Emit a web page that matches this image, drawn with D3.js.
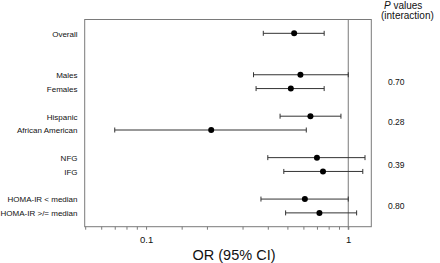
<!DOCTYPE html>
<html>
<head>
<meta charset="utf-8">
<script src="https://cdn.jsdelivr.net/npm/d3@7.9.0/dist/d3.min.js"></script>
<style>
  body { margin: 0; background: #fff; }
  svg { display: block; font-family: Arial, "Liberation Sans", sans-serif; }
</style>
</head>
<body>
<svg id="chart" width="440" height="263"></svg>
<script>
// subgroup rows (slot = row position, gaps between groups)
const labels = ["Overall", "Males", "Females", "Hispanic", "African American",
                "NFG", "IFG", "HOMA-IR < median", "HOMA-IR >/= median"];
const slots = [0, 3, 4, 6, 7, 9, 10, 12, 13];
const oddsRatio = [0.54, 0.58, 0.52, 0.65, 0.21, 0.70, 0.75, 0.61, 0.72];
const ciLow  = [0.38, 0.34, 0.35, 0.46, 0.07, 0.40, 0.48, 0.37, 0.49];
const ciHigh = [0.76, 1.00, 0.76, 0.92, 0.62, 1.21, 1.18, 1.00, 1.10];

// interaction p values, placed between each pair
const pValues = ["0.70", "0.28", "0.39", "0.80"];
const pSlots = [3.5, 6.4, 9.5, 12.5];

const tickValues = [0.05, 0.06, 0.07, 0.08, 0.09, 0.1, 0.15, 0.2, 0.3, 0.4, 0.5, 0.6, 0.7, 0.8, 0.9, 1];
const tickLabels = { 0.1: "0.1", 1: "1" };

const svg = d3.select("#chart");
const plotLeft = 85.2, plotRight = 371.3, plotTop = 19.5, plotBottom = 226.7;

const x = d3.scaleLog().domain([0.05, 1.3]).range([plotLeft, plotRight]);
const y = d3.scaleLinear().domain([-1, 14]).range([plotTop, plotBottom]);

const frameColor = "#7a7a7a";
const barColor = "#333";

// frame
svg.append("rect")
    .attr("x", plotLeft - 0.5).attr("y", plotTop)
    .attr("width", plotRight - plotLeft + 0.5).attr("height", plotBottom - plotTop)
    .attr("fill", "none")
    .attr("stroke", frameColor)
    .attr("stroke-width", 1);

// reference line at OR = 1
svg.append("line")
    .attr("x1", x(1)).attr("x2", x(1))
    .attr("y1", plotTop).attr("y2", plotBottom + 3)
    .attr("stroke", frameColor);

// x axis
const xAxis = d3.axisBottom(x)
    .tickValues(tickValues)
    .tickSize(3)
    .tickPadding(7)
    .tickFormat(d => tickLabels[d] || "");

const axisG = svg.append("g")
    .attr("transform", `translate(0,${plotBottom})`)
    .call(xAxis);
axisG.select(".domain").remove();
axisG.selectAll(".tick line").attr("stroke", frameColor);
axisG.selectAll(".tick text")
    .attr("fill", "#111")
    .style("font-size", "9.5px")
    .style("font-family", "Arial, 'Liberation Sans', sans-serif");

// axis title
svg.append("text")
    .attr("x", 234).attr("y", 259.5)
    .attr("text-anchor", "middle")
    .style("font-size", "14.5px")
    .attr("fill", "#111")
    .text("OR (95% CI)");

const rows = labels.map((d, i) => ({
    label: d, slot: slots[i], or: oddsRatio[i], lo: ciLow[i], hi: ciHigh[i]
}));

// row labels
svg.selectAll(".row-label")
    .data(rows)
    .join("text")
    .attr("class", "row-label")
    .attr("x", 77.5)
    .attr("y", d => y(d.slot))
    .attr("dy", "0.42em")
    .attr("text-anchor", "end")
    .style("font-size", "8px")
    .attr("fill", "#111")
    .text(d => d.label);

// error bars
const bars = svg.selectAll(".ci")
    .data(rows)
    .join("g")
    .attr("class", "ci")
    .attr("stroke", barColor)
    .attr("stroke-width", 1);

bars.append("line")
    .attr("x1", d => x(d.lo)).attr("x2", d => x(d.hi))
    .attr("y1", d => y(d.slot)).attr("y2", d => y(d.slot));
bars.append("line")
    .attr("x1", d => x(d.lo)).attr("x2", d => x(d.lo))
    .attr("y1", d => y(d.slot) - 2.5).attr("y2", d => y(d.slot) + 2.5);
bars.append("line")
    .attr("x1", d => x(d.hi)).attr("x2", d => x(d.hi))
    .attr("y1", d => y(d.slot) - 2.5).attr("y2", d => y(d.slot) + 2.5);

// point estimates
svg.selectAll(".pt")
    .data(rows)
    .join("circle")
    .attr("class", "pt")
    .attr("cx", d => x(d.or))
    .attr("cy", d => y(d.slot))
    .attr("r", 3)
    .attr("fill", "#000");

// p value column
const header = svg.append("text")
    .attr("x", 384).attr("y", 8.5)
    .style("font-size", "10px")
    .attr("fill", "#111");
header.append("tspan").style("font-style", "italic").text("P");
header.append("tspan").text(" values");

svg.append("text")
    .attr("x", 381).attr("y", 19)
    .style("font-size", "10px")
    .attr("fill", "#111")
    .text("(interaction)");

svg.selectAll(".pval")
    .data(pValues)
    .join("text")
    .attr("class", "pval")
    .attr("x", 388)
    .attr("y", (d, i) => y(pSlots[i]))
    .attr("dy", "0.38em")
    .style("font-size", "8.5px")
    .attr("fill", "#111")
    .text(d => d);
</script>
</body>
</html>
